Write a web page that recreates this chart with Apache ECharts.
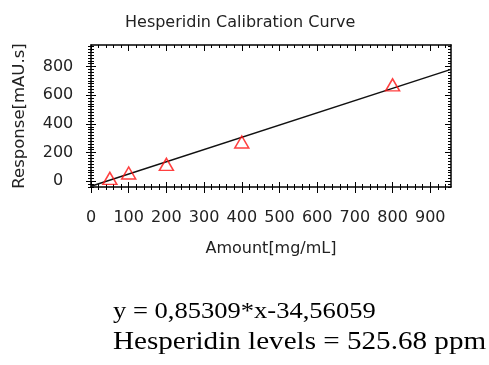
<!DOCTYPE html>
<html>
<head>
<meta charset="utf-8">
<script src="https://cdn.jsdelivr.net/npm/echarts@6/dist/echarts.min.js"></script>
<style>
  html, body { margin: 0; padding: 0; background: #fff; }
  #main { width: 489px; height: 365px; }
</style>
</head>
<body>
<div id="main"></div>
<script>
// measured points (amount, response)
const amounts = [50, 100, 200, 400, 800]
const responses = [20, 58, 118, 274, 672]
// regression line end points
const fitX = [0, 955]
const fitY = [-34.6, 780.1]

const xMin = 0
const xMax = 955
const yMin = -40
const yMax = 950

const xMajor = [0, 100, 200, 300, 400, 500, 600, 700, 800, 900]
const yMajor = [0, 200, 400, 600, 800]

const equationText = 'y = 0,85309*x-34,56059'
const levelText = 'Hesperidin levels = 525.68 ppm'

function steps (from, to, step) {
  const out = []
  for (let v = from; v <= to; v += step) out.push(v)
  return out
}
const xMinor = steps(0, 940, 20)
const yMinor = steps(-40, 940, 20)

const font = 'DejaVu Sans'
const black = '#000'
const textColor = '#222'

// helper: an axis that only draws ticks
function tickAxis (kind, pos, values, len, inside, offset) {
  const isX = kind === 'x'
  return {
    type: 'value',
    position: pos,
    min: isX ? xMin : yMin,
    max: isX ? xMax : yMax,
    offset: offset || 0,
    axisLine: { show: false, onZero: false },
    axisLabel: { show: false },
    splitLine: { show: false },
    axisTick: {
      show: true,
      inside: inside,
      length: len,
      customValues: values,
      lineStyle: { color: black, width: 1 }
    }
  }
}

const myChart = echarts.init(document.getElementById('main'))
const option = {
  backgroundColor: '#fff',
  animation: false,
  title: {
    text: 'Hesperidin Calibration Curve',
    left: 120,
    top: 10,
    textStyle: { fontFamily: font, fontSize: 16, fontWeight: 'normal', color: textColor }
  },
  grid: { left: 91, right: 38, top: 45, bottom: 178, containLabel: false },
  xAxis: [
    {
      type: 'value',
      position: 'bottom',
      min: xMin,
      max: xMax,
      name: 'Amount[mg/mL]',
      nameLocation: 'middle',
      nameGap: 54,
      nameTextStyle: { fontFamily: font, fontSize: 16, color: textColor },
      axisLine: { show: true, onZero: false, lineStyle: { color: black, width: 1.5 } },
      axisTick: { show: false },
      axisLabel: { customValues: xMajor, margin: 23, fontFamily: font, fontSize: 16, color: textColor },
      splitLine: { show: false }
    },
    tickAxis('x', 'bottom', xMajor, 11, false, -5),
    tickAxis('x', 'bottom', xMinor, 6, false, -3),
    Object.assign(tickAxis('x', 'top', xMajor, 6, true, 0), {
      axisLine: { show: true, onZero: false, lineStyle: { color: black, width: 1.5 } }
    }),
    tickAxis('x', 'top', xMinor, 3, true, 0)
  ],
  yAxis: [
    {
      type: 'value',
      position: 'left',
      min: yMin,
      max: yMax,
      name: 'Response[mAU.s]',
      nameLocation: 'middle',
      nameGap: 63,
      nameTextStyle: { fontFamily: font, fontSize: 16.5, color: textColor },
      axisLine: { show: true, onZero: false, lineStyle: { color: black, width: 1.5 } },
      axisTick: { show: false },
      axisLabel: { customValues: yMajor, margin: 33, align: 'center', fontFamily: font, fontSize: 16, color: textColor },
      splitLine: { show: false }
    },
    tickAxis('y', 'left', yMajor, 10, false, -5),
    tickAxis('y', 'left', yMinor, 6, false, -3),
    Object.assign(tickAxis('y', 'right', yMajor, 6, true, 0), {
      axisLine: { show: true, onZero: false, lineStyle: { color: black, width: 1.5 } }
    }),
    tickAxis('y', 'right', yMinor, 3, true, 0)
  ],
  series: [
    {
      type: 'line',
      xAxisIndex: 0,
      yAxisIndex: 0,
      data: fitX.map((x, i) => [x, fitY[i]]),
      symbol: 'none',
      lineStyle: { color: '#111', width: 1.5 },
      z: 2
    },
    {
      type: 'scatter',
      xAxisIndex: 0,
      yAxisIndex: 0,
      data: amounts.map((x, i) => [x, responses[i]]),
      symbol: 'triangle',
      symbolSize: [14, 12],
      itemStyle: { color: 'rgba(0,0,0,0)', borderColor: '#ff1010', borderWidth: 1.5 },
      z: 3
    }
  ],
  graphic: [
    {
      type: 'text',
      x: 113,
      y: 301,
      scaleX: 1.17,
      style: { text: equationText, fontFamily: 'Liberation Serif', fontSize: 22.7, fill: '#000' }
    },
    {
      type: 'text',
      x: 113,
      y: 330,
      scaleX: 1.165,
      style: { text: levelText, fontFamily: 'Liberation Serif', fontSize: 25, fill: '#000' }
    }
  ]
}
myChart.setOption(option)
</script>
</body>
</html>
